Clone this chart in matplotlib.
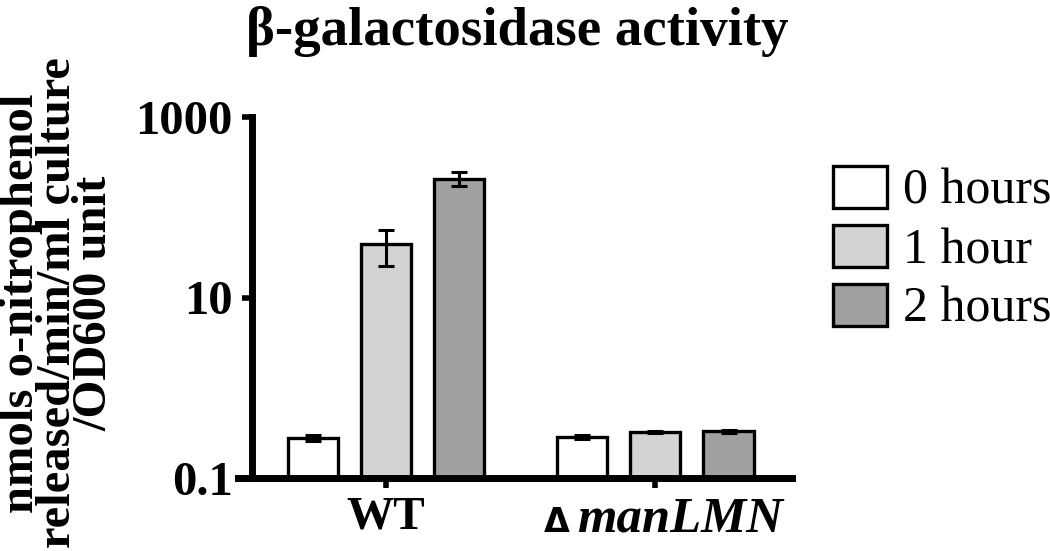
import numpy as np
import matplotlib
matplotlib.use("Agg")
import matplotlib.pyplot as plt

# data
strains = ["WT", "manLMN"]
strain_prefix = ["", "Δ"]
timepoints = ["0 hours", "1 hour", "2 hours"]
means = {
    "0 hours": [0.28, 0.285],
    "1 hour": [38.8, 0.322],
    "2 hours": [208.0, 0.33],
}
errors = {
    "0 hours": [0.02, 0.015],
    "1 hour": [16.7, 0.01],
    "2 hours": [38.0, 0.012],
}
colors = ["#ffffff", "#d3d3d3", "#a0a0a0"]

plt.rcParams['font.family'] = ['Liberation Serif', 'DejaVu Serif']

fig = plt.figure(figsize=(10.5, 5.51), dpi=100)
ax = fig.add_axes([238 / 1050, 1 - 478 / 551, 554 / 1050, (478 - 117) / 551])

x = np.arange(len(strains))
offset = 0.273
width = 0.186
for i, (tp, c) in enumerate(zip(timepoints, colors)):
    ax.bar(x + (i - 1) * offset, means[tp], width, color=c, edgecolor='black',
           linewidth=2.4, label=tp, zorder=2)
    ax.errorbar(x + (i - 1) * offset, means[tp], yerr=errors[tp], fmt='none',
                ecolor='black', elinewidth=2.2, capsize=5.5, capthick=2.2, zorder=3)

ax.spines['top'].set_visible(False)
ax.spines['right'].set_visible(False)
ax.spines['left'].set_position(('axes', 14 / 554))
ax.spines['left'].set_linewidth(5)
ax.spines['bottom'].set_linewidth(5)
ax.tick_params(axis='both', direction='out', length=7, width=4, pad=7,
               labelsize=35)

ax.set_yscale('log')
ax.set_ylim(0.1, 1000)
ax.set_xlim(-0.55, 1.509)
ax.spines['left'].set_bounds(0.1, 1000)
ax.yaxis.set_minor_locator(matplotlib.ticker.NullLocator())
ax.set_yticks([0.1, 10, 1000])
ax.set_yticklabels(["0.1", "10", "1000"], fontsize=35, fontweight='bold')
ax.set_xticks(x)
ax.set_xticklabels([""] * len(strains))

# strain labels: WT upright, mutant name in bold italic with a small delta
for xi, name, pre in zip(x, strains, strain_prefix):
    if pre:
        ax.annotate(name, xy=(xi, 0), xycoords=('data', 'axes fraction'),
                    xytext=(18, -13), textcoords='offset points',
                    ha='center', va='top', fontsize=36.5, fontweight='bold',
                    fontstyle='italic')
        ax.annotate(pre, xy=(xi, 0), xycoords=('data', 'axes fraction'),
                    xytext=(-71, -20), textcoords='offset points',
                    ha='center', va='top', fontsize=24, fontweight='bold',
                    family='DejaVu Sans')
    else:
        ax.annotate(name, xy=(xi, 0), xycoords=('data', 'axes fraction'),
                    xytext=(0, -13), textcoords='offset points',
                    ha='center', va='top', fontsize=34, fontweight='bold')

fig.text(517 / 1050, 1 - 6 / 551, "β-galactosidase activity", ha='center',
         va='top', fontsize=39.5, fontweight='bold')

fig.text(0.055, 1 - 303 / 551,
         "nmols o-nitrophenol\nreleased/min/ml culture\n/OD600 unit",
         rotation=90, ha='center', va='center', fontsize=35, fontweight='bold',
         linespacing=0.78)

ax.legend(loc='upper left', bbox_to_anchor=(833 / 1050, 1 - 166 / 551),
          bbox_transform=fig.transFigure, frameon=False, fontsize=36,
          handlelength=1.08, handleheight=0.9, handletextpad=0.32,
          labelspacing=0.2, borderpad=0, borderaxespad=0)

fig.savefig("out.png", dpi=100)
